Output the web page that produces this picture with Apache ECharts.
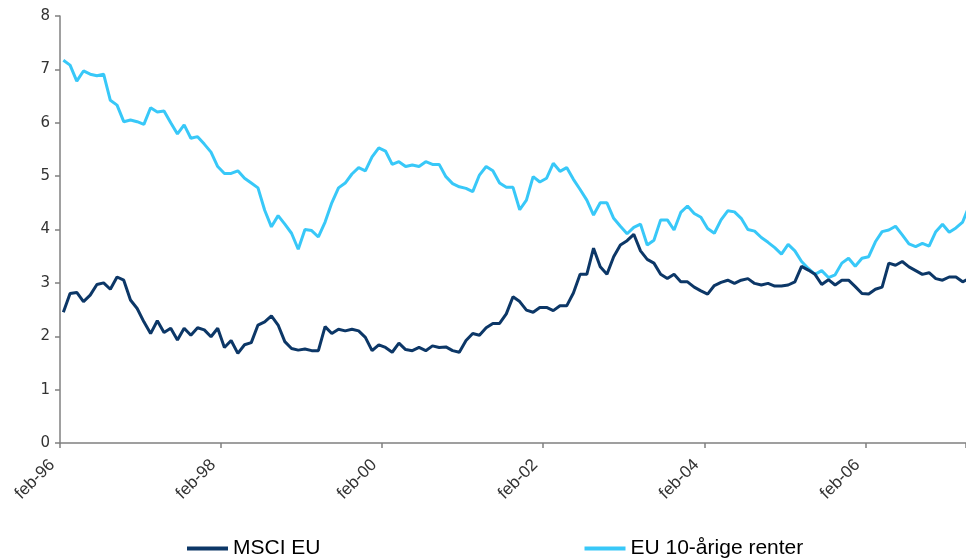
<!DOCTYPE html>
<html>
<head>
<meta charset="utf-8">
<script src="https://cdn.jsdelivr.net/npm/echarts@6/dist/echarts.min.js"></script>
<style>html,body{margin:0;padding:0;background:#fff;}#c{width:966px;height:558px;}</style>
</head>
<body>
<div id="c"></div>
<script>
var monthNames = ['jan','feb','mar','apr','maj','jun','jul','aug','sep','okt','nov','dec'];
var startYear = 1996, startMonth = 1; // feb-96
var msciEU = [2.45,2.8,2.82,2.65,2.77,2.97,3.0,2.88,3.11,3.05,2.68,2.52,2.27,2.05,2.29,2.07,2.15,1.93,2.15,2.02,
2.16,2.12,1.99,2.15,1.79,1.92,1.68,1.84,1.88,2.21,2.27,2.38,2.21,1.9,1.77,1.74,1.76,1.73,1.73,2.18,
2.05,2.13,2.1,2.13,2.1,1.98,1.73,1.84,1.79,1.7,1.87,1.75,1.73,1.79,1.73,1.82,1.79,1.8,1.73,1.7,
1.92,2.05,2.02,2.16,2.24,2.24,2.42,2.74,2.65,2.49,2.45,2.54,2.54,2.48,2.57,2.57,2.81,3.16,3.16,3.65,
3.3,3.16,3.49,3.71,3.79,3.91,3.6,3.44,3.37,3.16,3.08,3.16,3.02,3.02,2.92,2.85,2.79,2.95,3.01,3.05,
2.99,3.05,3.08,2.99,2.96,2.99,2.94,2.94,2.96,3.02,3.31,3.24,3.16,2.97,3.06,2.96,3.05,3.05,2.93,2.8,
2.79,2.88,2.92,3.37,3.33,3.4,3.3,3.23,3.16,3.19,3.08,3.05,3.11,3.11,3.02,3.08];
var euRenter = [7.17,7.08,6.78,6.97,6.91,6.88,6.91,6.42,6.33,6.02,6.05,6.02,5.97,6.28,6.2,6.22,6.0,5.79,5.96,5.71,
5.74,5.6,5.45,5.18,5.05,5.05,5.1,4.96,4.87,4.78,4.36,4.05,4.26,4.1,3.93,3.63,4.0,3.98,3.86,4.14,
4.5,4.78,4.87,5.04,5.16,5.1,5.36,5.53,5.47,5.22,5.27,5.18,5.21,5.18,5.27,5.22,5.22,4.99,4.86,4.8,
4.77,4.71,5.02,5.18,5.1,4.87,4.79,4.79,4.37,4.55,4.99,4.89,4.96,5.24,5.09,5.16,4.94,4.75,4.55,4.27,
4.5,4.5,4.21,4.06,3.92,4.04,4.1,3.71,3.8,4.18,4.18,3.99,4.32,4.44,4.3,4.23,4.02,3.93,4.18,4.35,
4.33,4.21,4.0,3.97,3.85,3.76,3.66,3.54,3.72,3.6,3.4,3.27,3.16,3.23,3.1,3.15,3.37,3.46,3.31,3.46,
3.49,3.77,3.96,3.99,4.06,3.9,3.73,3.68,3.74,3.69,3.96,4.1,3.95,4.03,4.14,4.45];
var yTicks = [0,1,2,3,4,5,6,7,8];
var seriesNames = ['MSCI EU','EU 10-årige renter'];

var categories = [];
for (var i = 0; i < msciEU.length; i++) {
  var m = (startMonth + i) % 12;
  var y = startYear + Math.floor((startMonth + i) / 12);
  categories.push(monthNames[m] + '-' + String(y % 100).padStart(2, '0'));
}

var chart = echarts.init(document.getElementById('c'), null, {renderer: 'canvas'});
var axisColor = '#808080';
chart.setOption({
  animation: false,
  backgroundColor: '#ffffff',
  grid: {left: 60, top: 16, right: 0, height: 427, containLabel: false},
  legend: {
    left: 187, top: 538, padding: 0, itemGap: 264, itemWidth: 41, itemHeight: 4, icon: 'rect',
    textStyle: {fontFamily: 'Liberation Sans, Arial, sans-serif', fontSize: 21, color: '#000'},
    data: seriesNames
  },
  xAxis: {
    type: 'category', data: categories, boundaryGap: true, min: 0, max: categories.length - 2,
    axisLine: {lineStyle: {color: axisColor, width: 1.5}},
    axisTick: {show: true, interval: 23, length: 5, lineStyle: {color: axisColor, width: 1.5}},
    axisLabel: {interval: 23, rotate: 45, margin: 8, padding: [0, 16, 0, 0], fontFamily: 'Liberation Sans, Arial, sans-serif', fontSize: 17, color: '#333'},
    splitLine: {show: false}
  },
  yAxis: {
    type: 'value', min: yTicks[0], max: yTicks[yTicks.length - 1], interval: 1,
    axisLine: {show: true, lineStyle: {color: axisColor, width: 1.5}},
    axisTick: {show: true, length: 5, lineStyle: {color: axisColor, width: 1.5}},
    axisLabel: {margin: 10, fontFamily: 'DejaVu Sans, Verdana, sans-serif', fontSize: 15, color: '#333'},
    splitLine: {show: false}
  },
  series: [
    {name: seriesNames[0], type: 'line', data: msciEU, clip: false, showSymbol: false, symbol: 'none', lineStyle: {color: '#0c3767', width: 3}, itemStyle: {color: '#0c3767'}, z: 3},
    {name: seriesNames[1], type: 'line', data: euRenter, clip: false, showSymbol: false, symbol: 'none', lineStyle: {color: '#38c8f8', width: 3}, itemStyle: {color: '#38c8f8'}, z: 2}
  ]
});
</script>
</body>
</html>
